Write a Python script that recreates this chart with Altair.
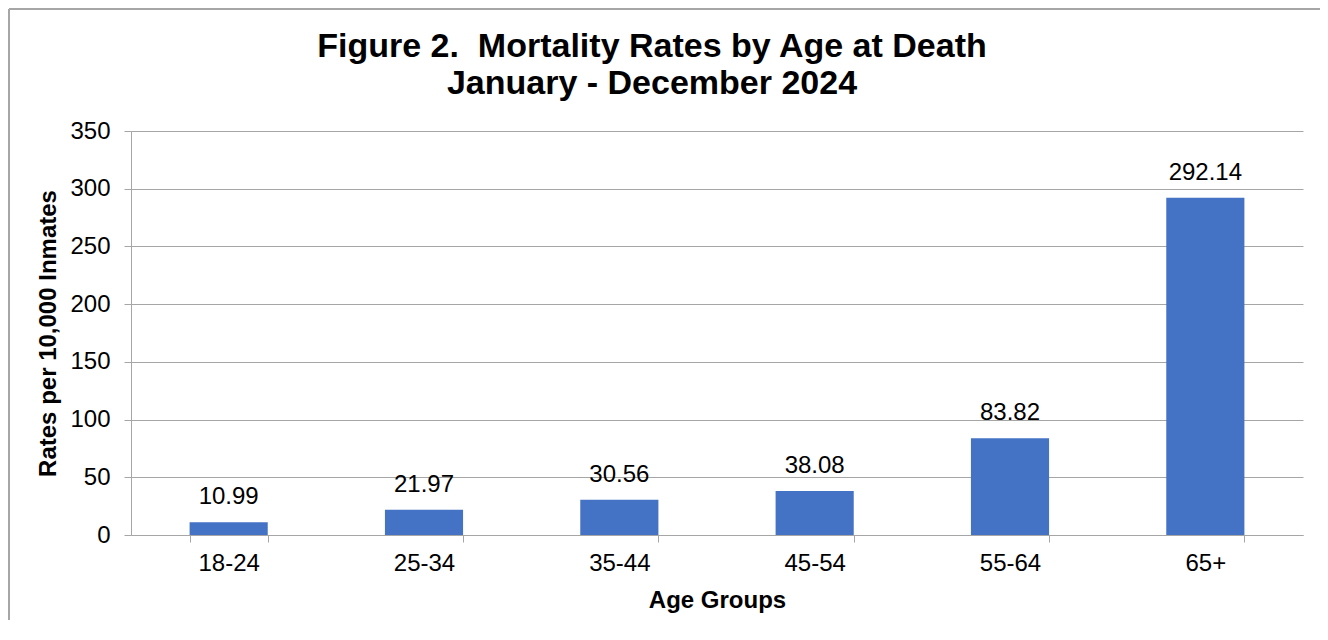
import altair as alt
import pandas as pd

age_groups = ["18-24", "25-34", "35-44", "45-54", "55-64", "65+"]
rates = [10.99, 21.97, 30.56, 38.08, 83.82, 292.14]
y_ticks = [0, 50, 100, 150, 200, 250, 300, 350]
title_lines = ["Figure 2.\u00a0 Mortality Rates by Age at Death", "January - December 2024"]

df = pd.DataFrame({"age": age_groups, "rate": rates})
df["label"] = [f"{v:.2f}" for v in rates]

FONT = "Liberation Sans"
GRID = "#A6A6A6"

base = alt.Chart(df)
one = base.transform_filter(alt.datum.age == "18-24")

top_line = one.mark_rule(color=GRID, strokeWidth=2, clip=False).encode(
    x=alt.value(-122), x2=alt.value(1189), y=alt.value(-122)
)
left_line = one.mark_rule(color=GRID, strokeWidth=2, clip=False).encode(
    x=alt.value(-122), y=alt.value(-122), y2=alt.value(489)
)

title1 = one.mark_text(
    text=title_lines[0], fontSize=34, font=FONT, fontWeight="bold",
    color="black", align="center", baseline="middle", clip=False
).encode(x=alt.value(521), y=alt.value(-84))
title2 = one.mark_text(
    text=title_lines[1], fontSize=34, font=FONT, fontWeight="bold",
    color="black", align="center", baseline="middle", clip=False
).encode(x=alt.value(521), y=alt.value(-47))

bars = base.mark_bar(color="#4472C4").encode(
    x=alt.X("age:N", sort=age_groups, title="Age Groups",
            scale=alt.Scale(paddingInner=0.6, paddingOuter=0.3),
            axis=alt.Axis(labelAngle=0, tickBand="extent", tickSize=7,
                          labelPadding=9, titlePadding=13)),
    y=alt.Y("rate:Q", title="Rates per 10,000 Inmates",
            scale=alt.Scale(domain=[0, 350], nice=False),
            axis=alt.Axis(values=y_ticks, tickSize=7, labelPadding=14,
                          titlePadding=9, grid=True)),
)

labels = base.mark_text(
    baseline="bottom", dy=-13, fontSize=24, font=FONT, color="black"
).encode(
    x=alt.X("age:N", sort=age_groups),
    y=alt.Y("rate:Q"),
    text="label:N",
)

chart = alt.layer(top_line, left_line, title1, title2, bars, labels).properties(
    width=1172, height=404,
    padding={"left": 123, "top": 123, "right": 17, "bottom": 85},
    autosize=alt.AutoSizeParams(type="none"),
).configure_view(stroke=None).configure_axis(
    labelFont=FONT, titleFont=FONT, labelFontSize=24, titleFontSize=24,
    labelColor="black", titleColor="black", titleFontWeight="bold",
    domainColor=GRID, tickColor=GRID, gridColor=GRID, gridWidth=1,
    domainWidth=1, tickWidth=1,
)

chart.save("out.html", embed_options={"renderer": "svg", "actions": False})
